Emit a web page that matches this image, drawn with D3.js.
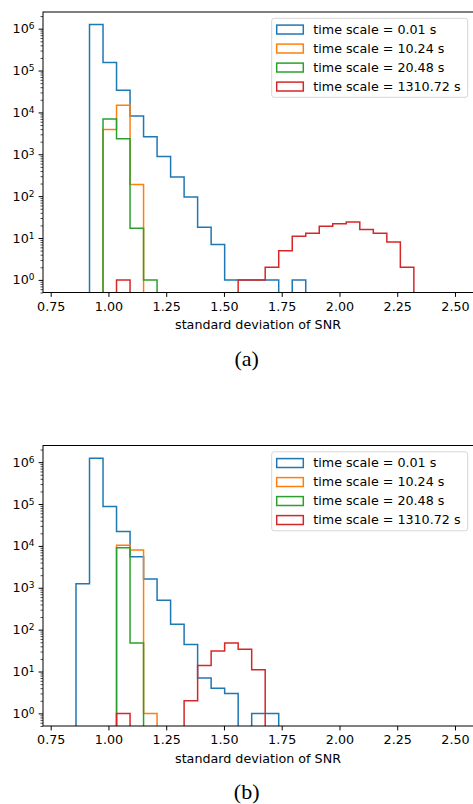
<!DOCTYPE html>
<html>
<head>
<meta charset="utf-8">
<script src="https://cdn.jsdelivr.net/npm/d3@7"></script>
<style>
    body { margin: 0; background: #fff; }
    svg { display: block; font-family: "DejaVu Sans", sans-serif; }
</style>
</head>
<body>
<div id="chart"></div>
<script>
// shared histogram bin edges (standard deviation of SNR)
const binEdges = [0.8595, 0.918, 0.9765, 1.035, 1.0935, 1.152, 1.2105, 1.269, 1.3275, 1.386,
    1.4445, 1.503, 1.5615, 1.62, 1.6785, 1.737, 1.7955, 1.854, 1.9125, 1.971,
    2.0295, 2.088, 2.1465, 2.205, 2.2635, 2.322];

const seriesLabels = ["time scale = 0.01 s", "time scale = 10.24 s", "time scale = 20.48 s", "time scale = 1310.72 s"];
const xTicks = [0.75, 1.00, 1.25, 1.50, 1.75, 2.00, 2.25, 2.50];
const yDecades = [0, 1, 2, 3, 4, 5, 6];
const xLabel = "standard deviation of SNR";

// panel (a): counts per bin
const countsA_0p01 = [0, 1260000, 155000, 34000, 8200, 2640, 890, 285, 95, 18, 7, 1, 1, 1, 1, 0, 1, 0, 0, 0, 0, 0, 0, 0, 0];
const countsA_10p24 = [0, 0, 3880, 14800, 190, 0, 0, 0, 0, 0, 0, 0, 0, 0, 0, 0, 0, 0, 0, 0, 0, 0, 0, 0, 0];
const countsA_20p48 = [0, 0, 6950, 2360, 17, 1, 0, 0, 0, 0, 0, 0, 0, 0, 0, 0, 0, 0, 0, 0, 0, 0, 0, 0, 0];
const countsA_1310p72 = [0, 0, 0, 1, 0, 0, 0, 0, 0, 0, 0, 0, 1, 1, 2, 5, 11, 13, 19, 22, 24, 16, 13, 8, 2];

// panel (b): counts per bin
const countsB_0p01 = [1250, 1245000, 87500, 22200, 5530, 1625, 502, 135, 44, 7, 4, 3, 0, 1, 1, 0, 0, 0, 0, 0, 0, 0, 0, 0, 0];
const countsB_10p24 = [0, 0, 0, 10300, 8000, 1, 0, 0, 0, 0, 0, 0, 0, 0, 0, 0, 0, 0, 0, 0, 0, 0, 0, 0, 0];
const countsB_20p48 = [0, 0, 0, 9060, 48, 0, 0, 0, 0, 0, 0, 0, 0, 0, 0, 0, 0, 0, 0, 0, 0, 0, 0, 0, 0];
const countsB_1310p72 = [0, 0, 0, 1, 0, 0, 0, 0, 2, 14, 31, 48, 34, 11, 0, 0, 0, 0, 0, 0, 0, 0, 0, 0, 0];

const colors = ["#1f77b4", "#ff7f0e", "#2ca02c", "#d62728"];

const svg = d3.select("#chart").append("svg")
    .attr("width", 473)
    .attr("height", 804);

class StepHist {
    constructor(svg, top, series, caption, id) {
        this.svg = svg;
        this.top = top;
        this.series = series;
        this.caption = caption;
        this.id = id;

        this.initVis();
    }

    initVis() {
        let vis = this;

        vis.left = 43;
        vis.width = 430;
        vis.height = 280.5;

        vis.g = vis.svg.append("g")
            .attr("transform", "translate(" + vis.left + "," + vis.top + ")");

        vis.x = d3.scaleLinear()
            .domain([0.7167, 2.578])
            .range([0, vis.width]);

        vis.y = d3.scaleLog()
            .domain([0.5, 2.5e6])
            .range([vis.height, 0]);

        vis.g.append("clipPath")
            .attr("id", "clip-" + vis.id)
            .append("rect")
            .attr("width", vis.width)
            .attr("height", vis.height);

        vis.updateVis();
    }

    updateVis() {
        let vis = this;

        // step outline like matplotlib histtype='step'; empty bins drop below the axis
        let line = d3.line()
            .x(d => vis.x(d[0]))
            .y(d => d[1] > 0 ? vis.y(d[1]) : vis.height + 20);

        vis.series.forEach((counts, k) => {
            let pts = [[binEdges[0], 0]];
            counts.forEach((c, i) => {
                pts.push([binEdges[i], c]);
                pts.push([binEdges[i + 1], c]);
            });
            pts.push([binEdges[binEdges.length - 1], 0]);

            vis.g.append("path")
                .datum(pts)
                .attr("clip-path", "url(#clip-" + vis.id + ")")
                .attr("fill", "none")
                .attr("stroke", colors[k])
                .attr("stroke-width", 1.5)
                .attr("stroke-linejoin", "miter")
                .attr("d", line);
        });

        // minor ticks on the log axis
        let minor = [];
        [-1, 0, 1, 2, 3, 4, 5, 6].forEach(p => {
            for (let m = 2; m <= 9; m++) {
                let v = m * Math.pow(10, p);
                if (v >= 0.5 && v <= 2.5e6) minor.push(v);
            }
        });

        vis.g.append("g")
            .attr("class", "y minor")
            .call(d3.axisLeft(vis.y).tickValues(minor).tickSize(2.5).tickFormat(""))
            .call(g => g.select(".domain").remove());

        let yAxis = vis.g.append("g")
            .attr("class", "y axis")
            .call(d3.axisLeft(vis.y).tickValues(yDecades.map(p => Math.pow(10, p))).tickSize(4.4).tickFormat(""));
        yAxis.select(".domain").remove();
        yAxis.selectAll("line").attr("stroke", "#000").attr("stroke-width", 1);

        vis.g.selectAll(".y.minor line").attr("stroke", "#000").attr("stroke-width", 0.7);

        // 10^k labels
        yDecades.forEach(p => {
            let t = vis.g.append("text")
                .attr("x", -8.5)
                .attr("y", vis.y(Math.pow(10, p)) + 4.5)
                .attr("text-anchor", "end")
                .style("font-size", "12.7px")
                .attr("fill", "#000");
            t.append("tspan").text("10");
            t.append("tspan").attr("dy", -4).style("font-size", "9px").text(p);
        });

        let xAxis = vis.g.append("g")
            .attr("class", "x axis")
            .attr("transform", "translate(0," + vis.height + ")")
            .call(d3.axisBottom(vis.x).tickValues(xTicks).tickSize(4.4).tickPadding(4.6).tickFormat(d3.format(".2f")));
        xAxis.select(".domain").remove();
        xAxis.selectAll("line").attr("stroke", "#000").attr("stroke-width", 1);
        xAxis.selectAll("text")
            .style("font-size", "12.7px")
            .style("font-family", "DejaVu Sans")
            .attr("fill", "#000");

        // frame
        vis.g.append("rect")
            .attr("x", 0)
            .attr("y", 0)
            .attr("width", vis.width + 0.5)
            .attr("height", vis.height)
            .attr("fill", "none")
            .attr("stroke", "#000")
            .attr("stroke-width", 1);

        vis.g.append("text")
            .attr("x", 215)
            .attr("y", vis.height + 36.5)
            .attr("text-anchor", "middle")
            .style("font-size", "12.7px")
            .text(xLabel);

        // legend
        let lg = vis.g.append("g")
            .attr("transform", "translate(228.7,6.3)");
        lg.append("rect")
            .attr("width", 196)
            .attr("height", 79)
            .attr("rx", 2.5)
            .attr("fill", "#fff")
            .attr("fill-opacity", 0.8)
            .attr("stroke", "#d6d6d6")
            .attr("stroke-width", 1);

        seriesLabels.forEach((lab, i) => {
            let cy = 11.2 + i * 19;
            lg.append("rect")
                .attr("x", 5)
                .attr("y", cy - 4.4)
                .attr("width", 26.6)
                .attr("height", 8.9)
                .attr("fill", "none")
                .attr("stroke", colors[i])
                .attr("stroke-width", 1.5);
            lg.append("text")
                .attr("x", 41.6)
                .attr("y", cy + 4.5)
                .style("font-size", "12.7px")
                .text(lab);
        });

        // caption
        vis.svg.append("text")
            .attr("x", 246.7)
            .attr("y", vis.top + 353.5)
            .attr("text-anchor", "middle")
            .style("font-family", "'Liberation Serif', 'Times New Roman', serif")
            .style("font-size", "22px")
            .text(vis.caption);
    }
}

new StepHist(svg, 12, [countsA_0p01, countsA_10p24, countsA_20p48, countsA_1310p72], "(a)", "a");
new StepHist(svg, 445.5, [countsB_0p01, countsB_10p24, countsB_20p48, countsB_1310p72], "(b)", "b");
</script>
</body>
</html>
